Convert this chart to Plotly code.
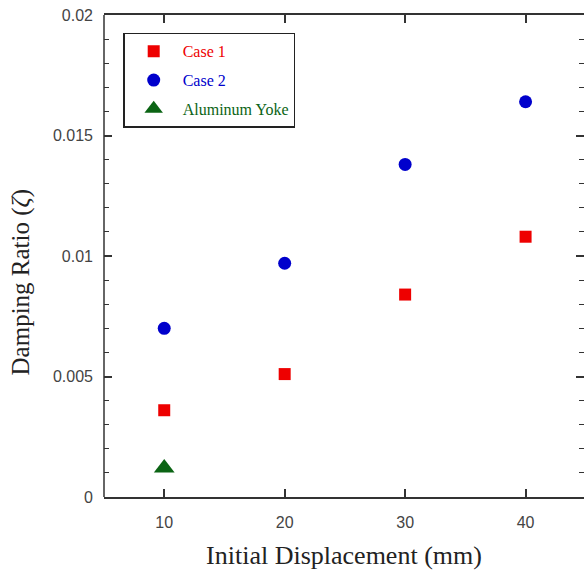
import plotly.graph_objects as go

# Damping ratio measured at each initial displacement
displacement = [10, 20, 30, 40]
case1_ratio = [0.0036, 0.0051, 0.0084, 0.0108]
case2_ratio = [0.0070, 0.0097, 0.0138, 0.0164]
yoke_displacement = [10]
yoke_ratio = [0.0012]

series_names = ["Case 1", "Case 2", "Aluminum Yoke"]
x_ticks = [10, 20, 30, 40]
y_ticks = [0, 0.005, 0.01, 0.015, 0.02]
y_tick_text = ["0", "0.005", "0.01", "0.015", "0.02"]

RED = "#ee0000"
BLUE = "#0000cc"
GREEN = "#0b6414"
AXIS = "#333333"
series_colors = [RED, BLUE, GREEN]


def colored(name, color):
    return f'<span style="color:{color}">{name}</span>'


fig = go.Figure()
fig.add_trace(go.Scatter(
    x=displacement, y=case1_ratio, mode="markers",
    name=colored(series_names[0], series_colors[0]), legendgroup="a",
    marker=dict(symbol="square", size=12, color=RED),
))
fig.add_trace(go.Scatter(
    x=displacement, y=case2_ratio, mode="markers",
    name=colored(series_names[1], series_colors[1]), legendgroup="b",
    marker=dict(symbol="circle", size=13, color=BLUE),
))
fig.add_trace(go.Scatter(
    x=yoke_displacement, y=yoke_ratio, mode="markers",
    name=colored(series_names[2], series_colors[2]), legendgroup="c",
    marker=dict(symbol="triangle-up", size=18, color=GREEN),
))

# left axis line (the right-hand one sits past the page edge)
fig.add_shape(type="line", xref="paper", yref="paper", x0=0, x1=0, y0=0, y1=1,
              line=dict(color=AXIS, width=1.5))

# vertical axis title
fig.add_annotation(
    text="Damping Ratio (<i>ζ</i>)", textangle=-90,
    xref="paper", yref="paper", x=-0.173, y=0.445,
    xanchor="center", yanchor="middle", showarrow=False,
    font=dict(family="Liberation Serif", size=25, color="#222222"),
)

fig.update_layout(
    width=584, height=570,
    margin=dict(l=104, r=0, t=15, b=73),
    plot_bgcolor="white", paper_bgcolor="white",
    showlegend=True,
    legend=dict(
        x=0.04, y=0.963, xanchor="left", yanchor="top",
        bordercolor="#222222", borderwidth=1.5, bgcolor="white",
        font=dict(family="Liberation Serif", size=16),
        tracegroupgap=5,
        itemwidth=48,
    ),
    xaxis=dict(
        range=[5, 44.85], tickvals=x_ticks, ticktext=[str(v) for v in x_ticks],
        showgrid=False, zeroline=False,
        showline=True, linecolor=AXIS, linewidth=1.5, mirror="ticks",
        ticks="inside", ticklen=8, tickwidth=1.5, tickcolor=AXIS,
        tickfont=dict(family="Liberation Sans", size=16, color="#444444"),
        ticklabelstandoff=10,
        title=dict(text="Initial Displacement (mm)", standoff=16,
                   font=dict(family="Liberation Serif", size=26, color="#222222")),
        automargin=False,
    ),
    yaxis=dict(
        range=[0, 0.02], tickvals=y_ticks, ticktext=y_tick_text,
        showgrid=False, zeroline=False,
        showline=False, mirror="ticks",
        ticks="inside", ticklen=8, tickwidth=1.5, tickcolor=AXIS,
        minor=dict(dtick=0.001, ticks="inside", ticklen=5, tickwidth=1.2, tickcolor=AXIS),
        tickfont=dict(family="Liberation Sans", size=16, color="#444444"),
        ticklabelstandoff=10,
        automargin=False,
    ),
)

fig.write_html("out.html")
